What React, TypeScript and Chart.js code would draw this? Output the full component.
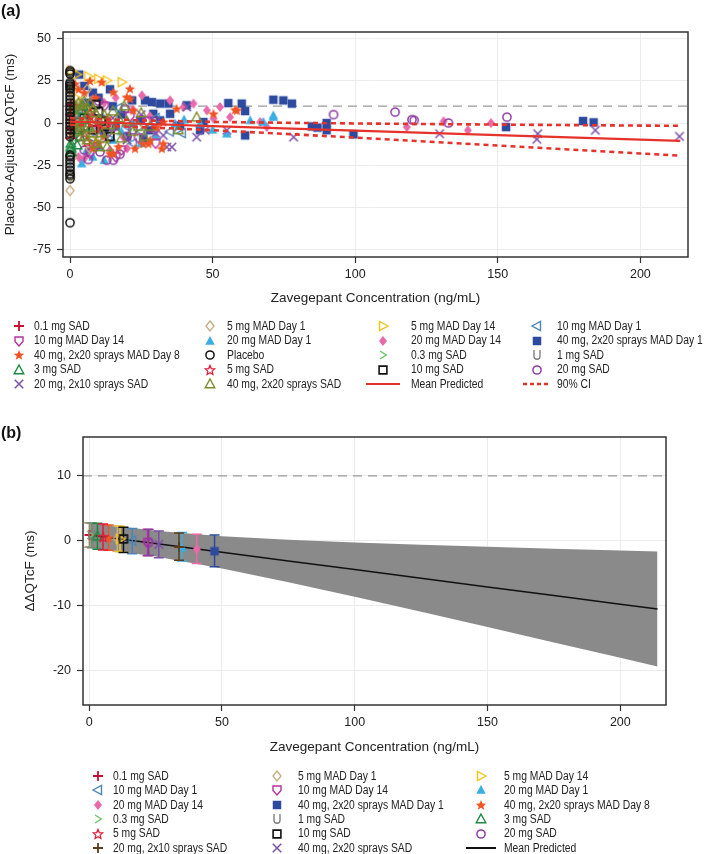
import React, { useEffect, useRef } from "react";
import { Chart, registerables } from "chart.js";
Chart.register(...registerables);

const FONT = "'Liberation Sans', Arial, Helvetica, sans-serif";
const INK = "#222222";

type Pt = [number, number];

// ---------- axes ----------
const A_X_TICKS = [0, 50, 100, 150, 200];
const A_Y_TICKS = [-75, -50, -25, 0, 25, 50];
const A_X_MIN = -2.46, A_X_MAX = 216.7;
const A_Y_MIN = -79.3, A_Y_MAX = 53.9;
const B_X_TICKS = [0, 50, 100, 150, 200];
const B_Y_TICKS = [-20, -10, 0, 10];
const B_X_MIN = -2.34, B_X_MAX = 217.2;
const B_Y_MIN = -25.3, B_Y_MAX = 16.0;
const QT_THRESHOLD = 10;

// ---------- model prediction ----------
const PRED_CONC = [0, 10, 25, 50, 75, 100, 125, 150, 175, 200, 214];
const PRED_MEAN = [0.9, 0.37, -0.43, -1.77, -3.1, -4.43, -5.76, -7.1, -8.43, -9.76, -10.5];
const PRED_UPPER = [2.9, 2.29, 1.55, 0.71, 0.17, -0.24, -0.59, -0.91, -1.21, -1.5, -1.65];
const PRED_LOWER = [-1.1, -1.55, -2.41, -4.25, -6.37, -8.62, -10.93, -13.29, -15.65, -18.02, -19.35];

// ---------- panel (a) observations: [conc ng/mL, placebo-adjusted dQTcF ms] ----------
const PLACEBO: Pt[] = [[0,31],[0,30],[0,29],[0,24],[0,23],[0,22],[0,21],[0,20],[0,18],[0,16],[0,14],[0,12],[0,10],[0,8],[0,6],[0,4],[0,2],[0,0],[0,-2],[0,-4],[0,-6],[0,-8],[0,-19],[0,-20],[0,-22],[0,-24],[0,-26],[0,-28],[0,-30],[0,-31],[0,-33],[0,-59]];
const SAD_01: Pt[] = [[0.1,5],[0.2,-3],[0.1,8],[0.3,-6],[0.2,2],[0.1,-9],[0.3,11],[0.2,0]];
const SAD_03: Pt[] = [[0.3,3],[0.5,-5],[0.4,7],[0.6,-2],[0.5,10],[0.3,-8],[0.7,1]];
const SAD_1: Pt[] = [[1,4],[1.5,-3],[1.2,8],[2,-6],[1.8,2],[1.1,-10],[2.2,6]];
const SAD_3: Pt[] = [[0.3,-12],[0.4,-15],[0.5,-17],[0.2,-14],[2,5],[3,-4],[4,8],[3.5,-8],[5,2],[2.5,-13],[4.5,10],[6,-2]];
const SAD_5: Pt[] = [[3,2],[5,-6],[7,6],[6,-11],[8,3],[4,10],[9,-3]];
const SAD_10: Pt[] = [[5,3],[8,-4],[10,7],[12,-2],[9,11],[14,-8],[11,1]];
const SAD_20: Pt[] = [[6.4,-21.6],[10.5,-17.1],[12.9,-22],[15.2,-22],[17.5,-18.5],[19.3,8.5],[5,-16],[22,-4],[25,2],[28,-3],[10,13],[30,1],[20,-8],[92.4,5],[114,6.5],[119.9,2],[120.7,1.6],[132.7,0],[153.2,3.5]];
const SAD_20_2X10: Pt[] = [[10,-5],[15,3],[20,-10],[25,5],[30,-6],[32.7,-7.3],[33.9,-14.2],[35.7,-14.2],[40.9,9.5],[44.4,-8.3],[47.4,-4.3],[55,-4.3],[78.4,-8.3],[129.6,-6.3],[164,-6.3],[163.7,-9.6],[184.2,-4.3],[213.7,-7.9],[2,-4],[5,7],[38,-2],[8,-13],[13,-9]];
const SAD_40_2X20: Pt[] = [[1,8],[2,-5],[3,12],[4,0],[5,-8],[6,4],[7,-3],[8,9],[9,-12],[10,2],[11,-6],[12,5],[13,-14],[14,-1],[15,7],[16,-4],[17,3],[18,-9],[20,1],[22,-5],[25,6],[28,-2],[44.4,3.5],[38,-4],[2,10],[4,11],[6,-10],[8,-6],[1,0],[3,-2],[5,13],[7,12],[10,-14],[12,-9],[19,10],[24,-2],[26,-8],[9,6]];
const MAD5_D1: Pt[] = [[0,-40],[0.2,-32],[1,-20],[2,5],[3,-8],[4,12],[5,-3],[6,20],[7,-15]];
const MAD5_D14: Pt[] = [[0.5,31],[2.3,28.8],[6.4,27.6],[9.9,26.2],[12.9,25.2],[18.1,24.2],[2,15],[4,-5],[6,8],[1,20],[8,-10]];
const MAD10_D1: Pt[] = [[2,-3],[5,6],[8,-9],[11,2],[14,-6],[17,9],[20,-2],[25,-5],[30,3],[39.2,-5.9],[35,-5],[22,-12]];
const MAD10_D14: Pt[] = [[3,-8],[6,5],[9,-14],[12,10],[15,-3],[18,-16],[21,4],[24,-9],[27,1],[30,-12],[16,-20],[7,-18]];
const MAD20_D1: Pt[] = [[4.1,-24],[5.8,-16.1],[10.5,-14.2],[8,-20],[15,-10],[18,-5],[22,0],[25,-12],[30,-8],[36.8,-0.4],[45.6,-0.4],[55,-6.3],[63.2,1.6],[67.8,0.6],[71.3,4.5],[71.3,3.5],[40,2],[50,-4],[12,-22]];
const MAD20_D14: Pt[] = [[3,-20],[6,-18],[9,-12],[12,12],[16,15],[18.7,-8.3],[25.2,16.4],[35.1,13.4],[39.8,9.5],[43.3,11.5],[48,7.5],[50.3,2.6],[52.6,9.5],[56.1,3.5],[66.7,0.6],[69,-2.4],[118.1,-2.4],[131,1],[139.5,-4.3],[147.6,0],[20,-15],[28,4],[22,8],[4,-22],[8,14],[30,-5],[5,-21],[14,-16]];
const MAD40_D1: Pt[] = [[3.2,28.7],[5,22],[8,18],[10,15],[12,-5],[15,10],[18,5],[20,-8],[21.8,13.4],[24.6,1.6],[25.7,-9.2],[26.3,13.4],[28.1,-4.3],[28.7,12.4],[29.2,5.5],[31.6,11.5],[31.6,1.6],[34.5,11.5],[35.1,5.5],[38.6,-1.4],[40.9,10.5],[45.6,-4.3],[46.8,0.6],[55.5,11.8],[60.2,11.5],[61.4,7.1],[61.4,-7.3],[71.3,13.8],[74.8,13.4],[77.8,11.5],[84.8,-2],[86.8,-2.7],[90,0],[90,-4.3],[99.4,-6.7],[152.9,-2.4],[179.9,1.2],[183.6,0.4],[6,12],[14,20],[16,-2]];
const MAD40_D8: Pt[] = [[1.8,23.3],[11.1,24.2],[15.2,18.3],[21,20.3],[21,14.4],[19.9,15.4],[22.2,7.5],[3,20],[5,18],[7,25],[9,15],[22.8,-15.1],[27.5,-12.2],[32.2,-15.1],[32.7,-12.2],[25.7,-12.2],[15.2,-18.1],[8,-15],[10,-12],[14,-18],[17,-14],[28.1,-10.2],[30.4,-2.4],[32.7,0.6],[37.4,8.5],[50.3,5.5],[58.5,7.5],[57.9,7.9],[4,-5],[6,5],[11,-3],[13,3],[2,10],[12,-8]];

// drawing order, bottom -> top
const A_SERIES: { label: string; data: Pt[] }[] = [
  { label: "40 mg, 2x20 sprays MAD Day 1", data: MAD40_D1 },
  { label: "20 mg MAD Day 14", data: MAD20_D14 },
  { label: "20 mg MAD Day 1", data: MAD20_D1 },
  { label: "10 mg MAD Day 1", data: MAD10_D1 },
  { label: "10 mg MAD Day 14", data: MAD10_D14 },
  { label: "20 mg, 2x10 sprays SAD", data: SAD_20_2X10 },
  { label: "20 mg SAD", data: SAD_20 },
  { label: "5 mg MAD Day 1", data: MAD5_D1 },
  { label: "5 mg MAD Day 14", data: MAD5_D14 },
  { label: "40 mg, 2x20 sprays MAD Day 8", data: MAD40_D8 },
  { label: "10 mg SAD", data: SAD_10 },
  { label: "5 mg SAD", data: SAD_5 },
  { label: "1 mg SAD", data: SAD_1 },
  { label: "0.3 mg SAD", data: SAD_03 },
  { label: "0.1 mg SAD", data: SAD_01 },
  { label: "3 mg SAD", data: SAD_3 },
  { label: "40 mg, 2x20 sprays SAD", data: SAD_40_2X20 },
  { label: "Placebo", data: PLACEBO },
];

const A_LEGEND = [
  "0.1 mg SAD", "5 mg MAD Day 1", "5 mg MAD Day 14", "10 mg MAD Day 1",
  "10 mg MAD Day 14", "20 mg MAD Day 1", "20 mg MAD Day 14", "40 mg, 2x20 sprays MAD Day 1",
  "40 mg, 2x20 sprays MAD Day 8", "Placebo", "0.3 mg SAD", "1 mg SAD",
  "3 mg SAD", "5 mg SAD", "10 mg SAD", "20 mg SAD",
  "20 mg, 2x10 sprays SAD", "40 mg, 2x20 sprays SAD", "Mean Predicted", "90% CI",
];

// ---------- panel (b) group summaries ----------
const B_LABELS = [
  "0.1 mg SAD", "5 mg MAD Day 1", "5 mg MAD Day 14",
  "10 mg MAD Day 1", "10 mg MAD Day 14", "20 mg MAD Day 1",
  "20 mg MAD Day 14", "40 mg, 2x20 sprays MAD Day 1", "40 mg, 2x20 sprays MAD Day 8",
  "0.3 mg SAD", "1 mg SAD", "3 mg SAD",
  "5 mg SAD", "10 mg SAD", "20 mg SAD",
  "20 mg, 2x10 sprays SAD", "40 mg, 2x20 sprays SAD",
];
const B_CONC = [0.1, 10.6, 11.6, 16.2, 22.0, 34.9, 40.5, 47.2, 7.3, 0.3, 1.0, 3.1, 5.2, 12.9, 22.4, 33.8, 26.2];
const B_MEAN = [0.9, 0.35, 0.3, 0.05, -0.25, -1.05, -1.3, -1.6, 0.45, 0.9, 0.85, 0.7, 0.6, 0.3, -0.28, -0.95, -0.55];
const B_LOWER = [-1.0, -1.6, -1.7, -2.0, -2.3, -3.1, -3.5, -4.0, -1.45, -1.0, -1.05, -1.3, -1.4, -1.8, -2.25, -3.0, -2.6];
const B_UPPER = [2.8, 2.3, 2.25, 1.9, 1.8, 1.3, 1.0, 0.9, 2.45, 2.8, 2.75, 2.7, 2.6, 2.1, 1.75, 1.2, 1.5];

// ---------- styles ----------
type Shape = "plus" | "x" | "circle" | "triUp" | "triUpFill" | "triRight" | "triLeft" | "diamond" | "diamondFill" | "square" | "squareFill" | "star" | "starFill" | "chevron" | "cup" | "shield";
const COMMON_STYLE: Record<string, [Shape, string]> = {
  "0.1 mg SAD": ["plus", "#c8102e"],
  "5 mg MAD Day 1": ["diamond", "#c9ad84"],
  "5 mg MAD Day 14": ["triRight", "#f2c21b"],
  "10 mg MAD Day 1": ["triLeft", "#4a86b8"],
  "10 mg MAD Day 14": ["shield", "#b5309e"],
  "20 mg MAD Day 1": ["triUpFill", "#39aee3"],
  "20 mg MAD Day 14": ["diamondFill", "#ea6aa9"],
  "40 mg, 2x20 sprays MAD Day 1": ["squareFill", "#2e4a9e"],
  "40 mg, 2x20 sprays MAD Day 8": ["starFill", "#f05423"],
  "Placebo": ["circle", "#111111"],
  "0.3 mg SAD": ["chevron", "#6cc36a"],
  "1 mg SAD": ["cup", "#808080"],
  "3 mg SAD": ["triUp", "#1b8a3e"],
  "5 mg SAD": ["star", "#e8193c"],
  "10 mg SAD": ["square", "#111111"],
  "20 mg SAD": ["circle", "#8b3aa1"],
};
const A_STYLE: Record<string, [Shape, string]> = {
  ...COMMON_STYLE,
  "20 mg, 2x10 sprays SAD": ["x", "#7c4fa8"],
  "40 mg, 2x20 sprays SAD": ["triUp", "#7b8b2b"],
};
const B_STYLE: Record<string, [Shape, string]> = {
  ...COMMON_STYLE,
  "20 mg, 2x10 sprays SAD": ["plus", "#5b3c1c"],
  "40 mg, 2x20 sprays SAD": ["x", "#7c4fa8"],
};

function makeMarker(shape: Shape, color: string, size = 9): HTMLCanvasElement {
  const S = size + 4;
  const c = document.createElement("canvas");
  c.width = S; c.height = S;
  const ctx = c.getContext("2d")!;
  ctx.translate(S / 2, S / 2);
  const r = size / 2;
  ctx.strokeStyle = color; ctx.fillStyle = color; ctx.lineWidth = 1.4;
  ctx.beginPath();
  const star = (outer: number, inner: number) => {
    for (let k = 0; k < 10; k++) {
      const ang = -Math.PI / 2 + (k * Math.PI) / 5;
      const rr = k % 2 === 0 ? outer : inner;
      const px = Math.cos(ang) * rr, py = Math.sin(ang) * rr + 0.4;
      if (k === 0) ctx.moveTo(px, py); else ctx.lineTo(px, py);
    }
    ctx.closePath();
  };
  switch (shape) {
    case "plus":
      ctx.lineWidth = 1.8;
      ctx.moveTo(-r, 0); ctx.lineTo(r, 0); ctx.moveTo(0, -r); ctx.lineTo(0, r); ctx.stroke(); break;
    case "x":
      ctx.lineWidth = 1.5;
      ctx.moveTo(-r * 0.85, -r * 0.85); ctx.lineTo(r * 0.85, r * 0.85);
      ctx.moveTo(r * 0.85, -r * 0.85); ctx.lineTo(-r * 0.85, r * 0.85); ctx.stroke(); break;
    case "circle":
      ctx.lineWidth = 1.5; ctx.arc(0, 0, r * 0.82, 0, Math.PI * 2); ctx.stroke(); break;
    case "triUp":
    case "triUpFill":
      ctx.moveTo(0, -r); ctx.lineTo(r * 0.95, r * 0.75); ctx.lineTo(-r * 0.95, r * 0.75); ctx.closePath();
      if (shape === "triUpFill") ctx.fill(); else ctx.stroke(); break;
    case "triRight":
      ctx.moveTo(r, 0); ctx.lineTo(-r * 0.7, -r * 0.9); ctx.lineTo(-r * 0.7, r * 0.9); ctx.closePath(); ctx.stroke(); break;
    case "triLeft":
      ctx.moveTo(-r, 0); ctx.lineTo(r * 0.7, -r * 0.9); ctx.lineTo(r * 0.7, r * 0.9); ctx.closePath(); ctx.stroke(); break;
    case "diamond":
    case "diamondFill":
      ctx.moveTo(0, -r); ctx.lineTo(r * 0.8, 0); ctx.lineTo(0, r); ctx.lineTo(-r * 0.8, 0); ctx.closePath();
      if (shape === "diamondFill") ctx.fill(); else ctx.stroke(); break;
    case "square":
      ctx.lineWidth = 1.6; ctx.rect(-r * 0.78, -r * 0.78, r * 1.56, r * 1.56); ctx.stroke(); break;
    case "squareFill":
      ctx.rect(-r * 0.85, -r * 0.85, r * 1.7, r * 1.7); ctx.fill(); break;
    case "star":
      ctx.lineWidth = 1.2; star(r, r * 0.45); ctx.stroke(); break;
    case "starFill":
      star(r * 1.1, r * 0.48); ctx.fill(); break;
    case "chevron":
      ctx.lineWidth = 1.4;
      ctx.moveTo(-r * 0.6, -r * 0.8); ctx.lineTo(r * 0.65, 0); ctx.lineTo(-r * 0.6, r * 0.8); ctx.stroke(); break;
    case "cup":
      ctx.lineWidth = 1.4;
      ctx.moveTo(-r * 0.6, -r); ctx.lineTo(-r * 0.6, r * 0.25);
      ctx.arc(0, r * 0.25, r * 0.6, Math.PI, 0, true); ctx.lineTo(r * 0.6, -r); ctx.stroke(); break;
    case "shield":
      ctx.lineWidth = 1.4;
      ctx.moveTo(-r * 0.8, -r * 0.8); ctx.lineTo(r * 0.8, -r * 0.8); ctx.lineTo(r * 0.8, 0.1 * r);
      ctx.lineTo(0, r); ctx.lineTo(-r * 0.8, 0.1 * r); ctx.closePath(); ctx.stroke(); break;
  }
  return c;
}

type LegendEntry = { label: string; kind: "marker" | "line" | "dotted"; img?: HTMLCanvasElement; color?: string };

// legend text: 12px glyph height, horizontally condensed like the reference typeface
const LEGEND_FONT_SIZE = 12;
const LEGEND_CONDENSE = 0.86;

function legendPlugin(id: string, entries: LegendEntry[], cols: { mx: number; tx: number; lw: number }[], rows: number[]) {
  return {
    id,
    afterDraw(chart: any) {
      const ctx = chart.ctx as CanvasRenderingContext2D;
      ctx.save();
      entries.forEach((e, i) => {
        const c = cols[i % cols.length];
        const y = rows[Math.floor(i / cols.length)];
        if (e.kind === "marker" && e.img) {
          ctx.drawImage(e.img, Math.round(c.mx - e.img.width / 2), Math.round(y - e.img.height / 2));
        } else {
          ctx.save();
          ctx.strokeStyle = e.color || INK;
          ctx.lineWidth = e.kind === "dotted" ? 2.4 : 2;
          if (e.kind === "dotted") ctx.setLineDash([4, 3]);
          ctx.beginPath(); ctx.moveTo(c.mx - c.lw / 2, y); ctx.lineTo(c.mx + c.lw / 2, y); ctx.stroke();
          ctx.restore();
        }
        ctx.save();
        ctx.translate(c.tx, y + 0.5);
        ctx.scale(LEGEND_CONDENSE, 1);
        ctx.font = `${LEGEND_FONT_SIZE}px ${FONT}`;
        ctx.fillStyle = INK; ctx.textBaseline = "middle"; ctx.textAlign = "left";
        ctx.fillText(e.label, 0, 0);
        ctx.restore();
      });
      ctx.restore();
    },
  };
}

function framePlugin(id: string, panelLabel: string, labelY: number) {
  return {
    id,
    beforeDatasetsDraw(chart: any) {
      const { ctx, chartArea: a, scales } = chart;
      const y = scales.y.getPixelForValue(QT_THRESHOLD);
      ctx.save();
      ctx.strokeStyle = "#9a9a9a"; ctx.lineWidth = 1.2; ctx.setLineDash([9, 6]);
      ctx.beginPath(); ctx.moveTo(a.left, y); ctx.lineTo(a.right, y); ctx.stroke();
      ctx.restore();
    },
    afterDatasetsDraw(chart: any) {
      const { ctx, chartArea: a } = chart;
      ctx.save();
      ctx.strokeStyle = "#333333"; ctx.lineWidth = 1.5;
      ctx.strokeRect(a.left, a.top, a.right - a.left, a.bottom - a.top);
      ctx.restore();
    },
    afterDraw(chart: any) {
      const ctx = chart.ctx;
      ctx.save();
      ctx.font = `bold 16px ${FONT}`; ctx.fillStyle = "#111"; ctx.textBaseline = "middle"; ctx.textAlign = "left";
      ctx.fillText(panelLabel, 1, labelY);
      ctx.restore();
    },
  };
}

function axisOpts(ticks: number[], min: number, max: number, title: string, isX: boolean, fit: number, titlePad: any, tickPad: number) {
  return {
    type: "linear",
    min, max,
    afterBuildTicks: (s: any) => { s.ticks = ticks.map((v) => ({ value: v })); },
    afterFit: (s: any) => { if (isX) s.height = fit; else s.width = fit; },
    grid: { color: "#ececec", lineWidth: 1, tickColor: "#333333", tickLength: 6, tickWidth: 1.2, drawTicks: true },
    border: { display: false },
    ticks: { font: { family: FONT, size: 12.5 }, color: INK, padding: tickPad, autoSkip: false, maxRotation: 0, callback: (v: any) => String(v) },
    title: { display: true, text: title, font: { family: FONT, size: 13.5 }, color: INK, padding: titlePad },
  };
}

export default function App() {
  const refA = useRef<HTMLCanvasElement>(null);
  const refB = useRef<HTMLCanvasElement>(null);

  useEffect(() => {
    const mA: Record<string, HTMLCanvasElement> = {};
    Object.keys(A_STYLE).forEach((k) => { mA[k] = makeMarker(A_STYLE[k][0], A_STYLE[k][1], 10); });
    const mB: Record<string, HTMLCanvasElement> = {};
    Object.keys(B_STYLE).forEach((k) => { mB[k] = makeMarker(B_STYLE[k][0], B_STYLE[k][1], 10); });

    const RED = "#e5322a";
    const predLine = (ys: number[]) => PRED_CONC.map((x, i) => ({ x, y: ys[i] }));

    // ---------------- Panel (a) ----------------
    const aDatasets: any[] = A_SERIES.map((g, i) => ({
      type: "scatter",
      label: g.label,
      data: g.data.map(([x, y]) => ({ x, y })),
      pointStyle: mA[g.label],
      pointRadius: 5,
      order: 100 - i,
    }));
    aDatasets.push(
      { type: "line", label: "Mean Predicted", data: predLine(PRED_MEAN), borderColor: RED, borderWidth: 2.2, pointRadius: 0, fill: false, order: 1 },
      { type: "line", label: "90% CI upper", data: predLine(PRED_UPPER), borderColor: RED, borderWidth: 2.6, borderDash: [5, 4], pointRadius: 0, fill: false, order: 0 },
      { type: "line", label: "90% CI lower", data: predLine(PRED_LOWER), borderColor: RED, borderWidth: 2.6, borderDash: [5, 4], pointRadius: 0, fill: false, order: 0 },
    );

    const aLegend: LegendEntry[] = A_LEGEND.map((lab) => {
      if (lab === "Mean Predicted") return { label: lab, kind: "line", color: RED };
      if (lab === "90% CI") return { label: lab, kind: "dotted", color: RED };
      return { label: lab, kind: "marker", img: mA[lab] };
    });

    const chartA = new Chart(refA.current!, {
      type: "scatter",
      data: { datasets: aDatasets },
      options: {
        animation: false, responsive: false, maintainAspectRatio: false, events: [],
        layout: { padding: { top: 32, right: 21, bottom: 103, left: 0 } },
        plugins: { legend: { display: false }, tooltip: { enabled: false } },
        scales: {
          x: axisOpts(A_X_TICKS, A_X_MIN, A_X_MAX, "Zavegepant Concentration (ng/mL)", true, 50, { top: 0, bottom: 1 }, 4),
          y: axisOpts(A_Y_TICKS, A_Y_MIN, A_Y_MAX, "Placebo-Adjusted \u0394QTcF (ms)", false, 63, { top: 2.5, bottom: 0 }, 6),
        },
      } as any,
      plugins: [
        framePlugin("frameA", "(a)", 12),
        legendPlugin("legendA", aLegend,
          [{ mx: 19, tx: 34, lw: 34 }, { mx: 210, tx: 227, lw: 34 }, { mx: 383, tx: 411, lw: 34 }, { mx: 537, tx: 557, lw: 28 }],
          [326, 340.5, 355, 369.5, 384]),
      ],
    });

    // ---------------- Panel (b) ----------------
    const bDatasets: any[] = [
      { type: "line", label: "band upper", data: predLine(PRED_UPPER), borderWidth: 0, pointRadius: 0, backgroundColor: "#8a8a8a", fill: "+1", order: 30 },
      { type: "line", label: "band lower", data: predLine(PRED_LOWER), borderWidth: 0, pointRadius: 0, fill: false, order: 29 },
      { type: "line", label: "Mean Predicted", data: predLine(PRED_MEAN), borderColor: "#111111", borderWidth: 1.5, pointRadius: 0, fill: false, order: 20 },
    ];
    B_LABELS.forEach((lab, i) => {
      bDatasets.push({
        type: "scatter", label: lab, data: [{ x: B_CONC[i], y: B_MEAN[i] }],
        pointStyle: mB[lab], pointRadius: 5, order: 10 - i * 0.1,
      });
    });

    const errorBars = {
      id: "errorBars",
      afterDatasetDraw(chart: any, args: any) {
        if (chart.data.datasets[args.index].label !== "Mean Predicted") return;
        const { ctx, scales } = chart;
        ctx.save();
        ctx.lineWidth = 1.5;
        B_LABELS.forEach((lab, i) => {
          const px = scales.x.getPixelForValue(B_CONC[i]);
          const pl = scales.y.getPixelForValue(B_LOWER[i]);
          const pu = scales.y.getPixelForValue(B_UPPER[i]);
          ctx.strokeStyle = B_STYLE[lab][1];
          ctx.beginPath();
          ctx.moveTo(px, pu); ctx.lineTo(px, pl);
          ctx.moveTo(px - 5, pu); ctx.lineTo(px + 5, pu);
          ctx.moveTo(px - 5, pl); ctx.lineTo(px + 5, pl);
          ctx.stroke();
        });
        ctx.restore();
      },
    };

    const bLegendLabels = [...B_LABELS, "Mean Predicted"];
    const bLegend: LegendEntry[] = bLegendLabels.map((lab) =>
      lab === "Mean Predicted" ? { label: lab, kind: "line", color: "#111111" } : { label: lab, kind: "marker", img: mB[lab] });

    const chartB = new Chart(refB.current!, {
      type: "scatter",
      data: { datasets: bDatasets },
      options: {
        animation: false, responsive: false, maintainAspectRatio: false, events: [],
        layout: { padding: { top: 27, right: 43, bottom: 97, left: 0 } },
        plugins: { legend: { display: false }, tooltip: { enabled: false }, filler: { propagate: false } },
        scales: {
          x: axisOpts(B_X_TICKS, B_X_MIN, B_X_MAX, "Zavegepant Concentration (ng/mL)", true, 52, { top: 0, bottom: 2 }, 4),
          y: axisOpts(B_Y_TICKS, B_Y_MIN, B_Y_MAX, "\u0394\u0394QTcF (ms)", false, 83, { top: 22, bottom: 0 }, 6),
        },
      } as any,
      plugins: [
        framePlugin("frameB", "(b)", 24),
        errorBars,
        legendPlugin("legendB", bLegend,
          [{ mx: 98, tx: 113, lw: 30 }, { mx: 277, tx: 298, lw: 30 }, { mx: 481, tx: 504, lw: 30 }],
          [366, 380.4, 394.8, 409.2, 423.6, 438]),
      ],
    });

    return () => { chartA.destroy(); chartB.destroy(); };
  }, []);

  return (
    <div style={{ position: "absolute", left: 0, top: 0, width: 709, height: 854, background: "#ffffff", overflow: "hidden" }}>
      <canvas ref={refA} width={709} height={410} style={{ position: "absolute", left: 0, top: 0, width: 709, height: 410 }} />
      <canvas ref={refB} width={709} height={444} style={{ position: "absolute", left: 0, top: 410, width: 709, height: 444 }} />
    </div>
  );
}
